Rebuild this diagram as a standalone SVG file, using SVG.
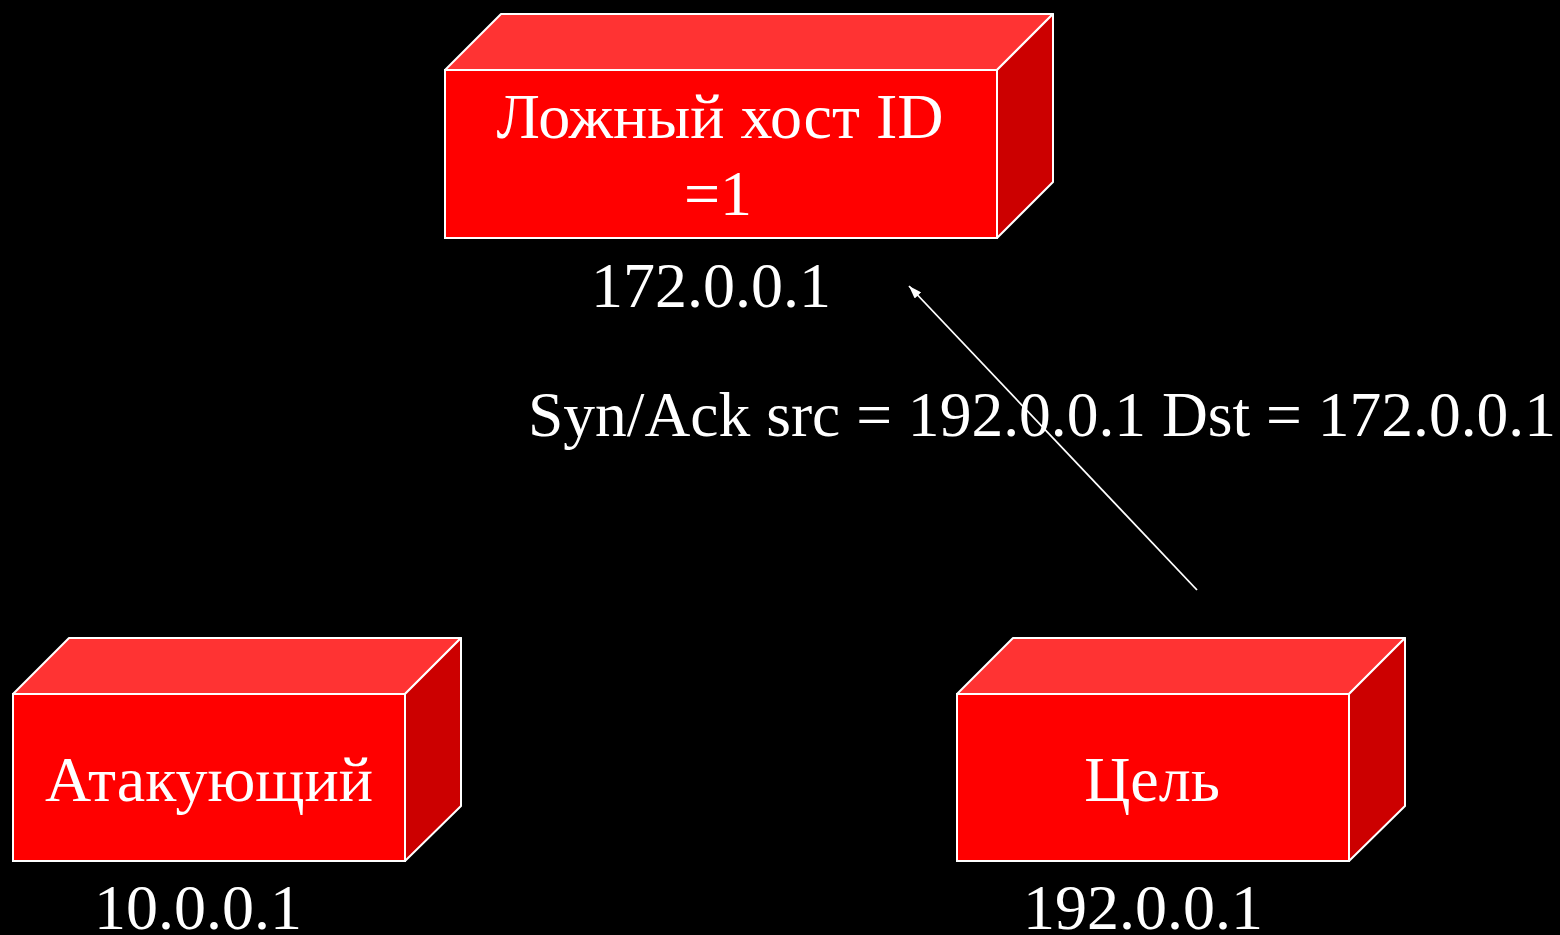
<svg xmlns="http://www.w3.org/2000/svg" width="1560" height="935" viewBox="0 0 1560 935">
  <style>
    .front { fill: #FF0000; stroke: #FFFFFF; stroke-width: 2; }
    .top { fill: #FF3333; stroke: #FFFFFF; stroke-width: 2; stroke-linejoin: round; }
    .side { fill: #CC0000; stroke: #FFFFFF; stroke-width: 2; stroke-linejoin: round; }
    .lbl { font-family: "Liberation Serif", "Times New Roman", serif; font-size: 64px; fill: #FFFFFF; }
    .conn { stroke: #FFFFFF; stroke-width: 1.8; fill: none; }
  </style>
  <defs>
    <marker id="arrow" viewBox="0 0 13 9" refX="13" refY="4.5" markerWidth="13" markerHeight="9" markerUnits="userSpaceOnUse" orient="auto">
      <path d="M0,0 L13,4.5 L0,9 z" fill="#FFFFFF"/>
    </marker>
  </defs>
  <rect width="1560" height="935" fill="#000000"/>

  <!-- spoofed host -->
  <g id="spoofed-host">
    <polygon class="top" points="445,70 501,14 1053,14 997,70"/>
    <polygon class="side" points="997,70 1053,14 1053,182 997,238"/>
    <rect class="front" x="445" y="70" width="552" height="168"/>
    <text class="lbl" x="720" y="138" text-anchor="middle">Ложный хост ID</text>
    <text class="lbl" x="718" y="215" text-anchor="middle">=1</text>
    <text class="lbl" x="711" y="307" text-anchor="middle">172.0.0.1</text>
  </g>

  <!-- attacker -->
  <g id="attacker">
    <polygon class="top" points="13,694 69,638 461,638 405,694"/>
    <polygon class="side" points="405,694 461,638 461,806 405,861"/>
    <rect class="front" x="13" y="694" width="392" height="167"/>
    <text class="lbl" x="209" y="801" text-anchor="middle">Атакующий</text>
    <text class="lbl" x="198" y="929" text-anchor="middle">10.0.0.1</text>
  </g>

  <!-- target -->
  <g id="target">
    <polygon class="top" points="957,694 1013,638 1405,638 1349,694"/>
    <polygon class="side" points="1349,694 1405,638 1405,806 1349,861"/>
    <rect class="front" x="957" y="694" width="392" height="167"/>
    <text class="lbl" x="1152" y="801" text-anchor="middle">Цель</text>
    <text class="lbl" x="1143" y="929" text-anchor="middle">192.0.0.1</text>
  </g>

  <!-- connectors -->
  <g id="connectors">
    <line class="conn" x1="1197" y1="590" x2="909" y2="286" marker-end="url(#arrow)"/>
    <text class="lbl" x="528" y="436" textLength="1028" lengthAdjust="spacingAndGlyphs">Syn/Ack src = 192.0.0.1 Dst = 172.0.0.1</text>
  </g>
</svg>
